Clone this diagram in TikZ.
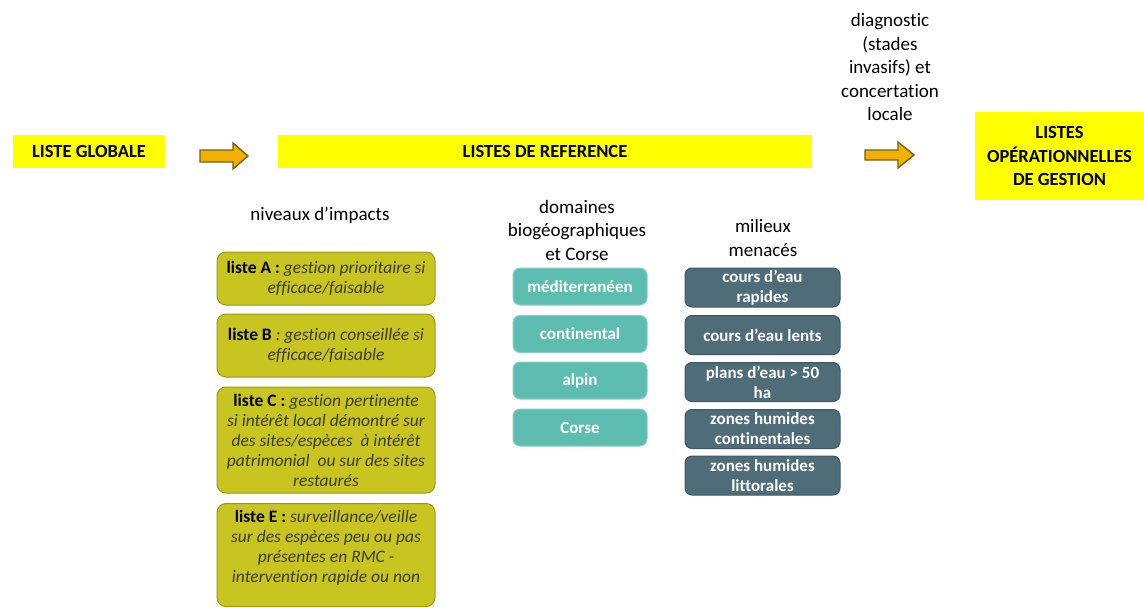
\documentclass[tikz,border=0pt]{standalone}
\usepackage{fontspec}
\setmainfont[Ligatures={TeX,NoCommon}]{Carlito}
\definecolor{yel}{HTML}{FFFF00}
\definecolor{olivef}{HTML}{C8C520}
\definecolor{olived}{HTML}{9A9815}
\definecolor{tealf}{HTML}{5EBDB1}
\definecolor{teald}{HTML}{8ACFC5}
\definecolor{slatef}{HTML}{4F6D79}
\definecolor{slated}{HTML}{3E5862}
\definecolor{arrf}{HTML}{F4B000}
\definecolor{arrd}{HTML}{6E6418}
\definecolor{itg}{HTML}{3C3C30}
\begin{document}
\begin{tikzpicture}[x=1pt,y=-1pt,
  ybox/.style={fill=yel,draw=none,inner sep=0pt,align=center,font=\fontsize{18.5}{23.5}\selectfont\bfseries},
  lvl/.style={fill=olivef,draw=olived,line width=1pt,rounded corners=9pt,inner sep=0pt,align=center,
     minimum width=218pt,font=\fontsize{17.5}{20}\selectfont},
  dom/.style={fill=tealf,draw=teald,line width=1pt,rounded corners=7pt,inner sep=0pt,align=center,
     minimum width=134pt,minimum height=37pt,text=white,font=\fontsize{17}{20}\selectfont\bfseries},
  mil/.style={fill=slatef,draw=slated,line width=1pt,rounded corners=7pt,inner sep=0pt,align=center,
     minimum width=155pt,minimum height=39pt,text=white,font=\fontsize{17}{20}\selectfont\bfseries},
  hdr/.style={align=center,inner sep=0pt,font=\fontsize{19}{23.5}\selectfont},
  bigarrow/.style={fill=arrf,draw=arrd,line width=1.4pt,line join=miter}
]
\useasboundingbox (0,0) rectangle (1144,608);

% top row
\node[ybox,minimum width=152pt,minimum height=33pt] (glob) at (89,151.5) {LISTE GLOBALE};
\node[ybox,minimum width=534pt,minimum height=33pt] (ref) at (545,151.5) {LISTES DE REFERENCE};
\node[ybox,minimum width=170pt,minimum height=88pt] (oper) at (1059.5,156) {LISTES\\OPÉRATIONNELLES\\DE GESTION};
\node[hdr] (diag) at (890,67) {diagnostic\\(stades\\invasifs) et\\concertation\\locale};

% block arrows
\draw[bigarrow] (200,150) -- (233,150) -- (233,143) -- (248,156) -- (233,169) -- (233,162) -- (200,162) -- cycle;
\draw[bigarrow] (865,150) -- (898,150) -- (898,142) -- (914,155) -- (898,168) -- (898,160) -- (865,160) -- cycle;

% column headers
\node[hdr] (hniv) at (320,215) {niveaux d'impacts};
\node[hdr] (hdom) at (577,230) {domaines\\biogéographiques\\et Corse};
\node[hdr] (hmil) at (763,238) {milieux\\menacés};

% impact levels
\node[lvl,minimum height=53pt] (la) at (326,278.5) {\textbf{liste A :} \textit{\color{itg}gestion prioritaire si}\\\textit{\color{itg}efficace/faisable}};
\node[lvl,minimum height=63pt] (lb) at (326,345.5) {\textbf{liste B} \textit{\color{itg}: gestion conseillée si}\\\textit{\color{itg}efficace/faisable}};
\node[lvl,minimum height=106pt] (lc) at (326,440) {\textbf{liste C :} \textit{\color{itg}gestion pertinente}\\\textit{\color{itg}si intérêt local démontré sur}\\\textit{\color{itg}des sites/espèces~ à intérêt}\\\textit{\color{itg}patrimonial~ ou sur des sites}\\\textit{\color{itg}restaurés}};
\node[lvl,minimum height=103pt] (le) at (326,555) {};
\node[align=center,inner sep=0pt,font=\fontsize{17.5}{20}\selectfont] (let) at (326,548) {\textbf{liste E :} \textit{\color{itg}surveillance/veille}\\\textit{\color{itg}sur des espèces peu ou pas}\\\textit{\color{itg}présentes en RMC -}\\\textit{\color{itg}intervention rapide ou non}};

% biogeographic domains
\node[dom] (med) at (580,286.5) {méditerranéen};
\node[dom] (cont) at (580,334) {continental};
\node[dom] (alp) at (580,380.5) {alpin};
\node[dom] (cors) at (580,427.5) {Corse};

% threatened habitats
\node[mil] (m1) at (762.5,287.5) {cours d'eau\\rapides};
\node[mil] (m2) at (762.5,335) {cours d'eau lents};
\node[mil] (m3) at (762.5,382) {plans d'eau > 50\\ha};
\node[mil] (m4) at (762.5,429) {zones humides\\continentales};
\node[mil] (m5) at (762.5,475.5) {zones humides\\littorales};
\end{tikzpicture}
\end{document}
